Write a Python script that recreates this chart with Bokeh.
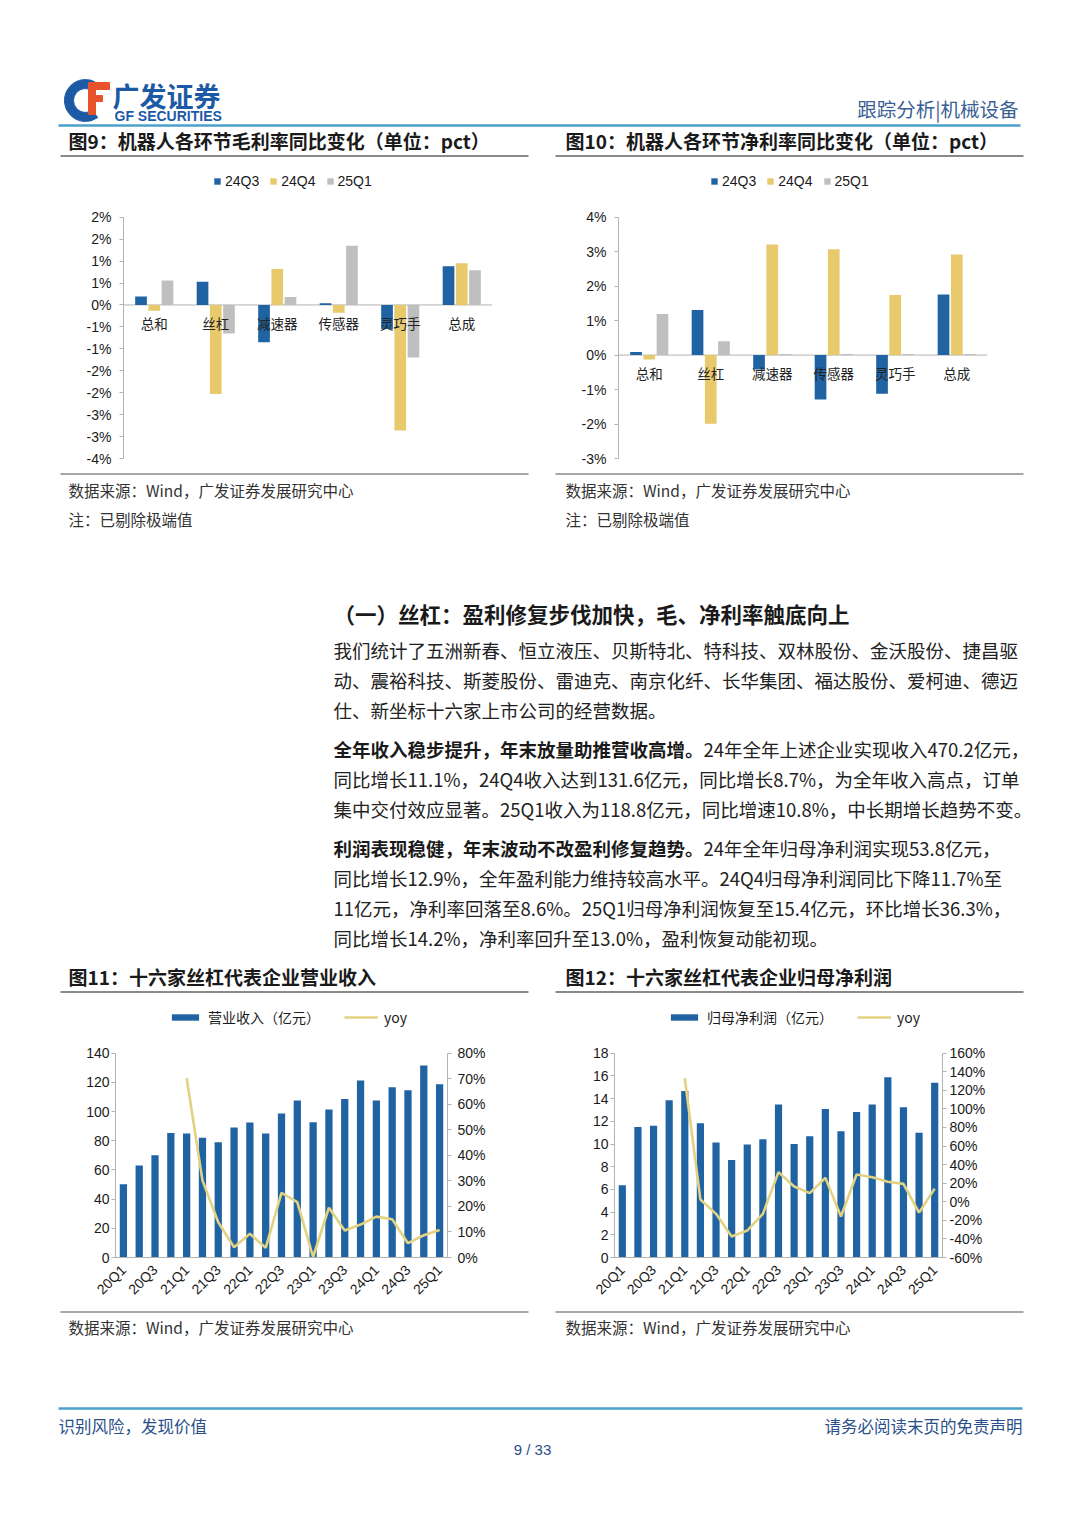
from math import pi
from bokeh.plotting import figure
from bokeh.models import (Range1d, FactorRange, LinearAxis, FixedTicker, Span, Legend,
                          LegendItem, PrintfTickFormatter, ColumnDataSource)
from bokeh.layouts import column, row
from bokeh.transform import dodge
from bokeh.core.properties import value
from bokeh.embed import file_html
from bokeh.resources import INLINE

CJK = "Noto Sans CJK SC"
LAT = "Liberation Sans"
BLUE = "#1f63a3"
GOLD = "#e8c96c"
GREY = "#bfbfbf"
YOYC = "#e2d282"
AXC = "#b3b3b3"

# ---------------- data ----------------
SEGMENTS = ["总和", "丝杠", "减速器", "传感器", "灵巧手", "总成"]
SERIES = ["24Q3", "24Q4", "25Q1"]
GROSS_24Q3 = [0.19, 0.53, -0.85, 0.04, -0.55, 0.88]
GROSS_24Q4 = [-0.13, -2.03, 0.82, -0.18, -2.86, 0.95]
GROSS_25Q1 = [0.56, -0.65, 0.18, 1.35, -1.20, 0.79]
GROSS_TICKS = [2.0, 1.5, 1.0, 0.5, 0.0, -0.5, -1.0, -1.5, -2.0, -2.5, -3.0, -3.5]
GROSS_TICK_LABELS = ["2%", "2%", "1%", "1%", "0%", "-1%", "-1%", "-2%", "-2%", "-3%", "-3%", "-4%"]

NET_24Q3 = [0.09, 1.31, -0.42, -1.29, -1.12, 1.76]
NET_24Q4 = [-0.13, -1.99, 3.21, 3.07, 1.74, 2.92]
NET_25Q1 = [1.19, 0.40, 0.03, 0.03, 0.03, 0.03]
NET_TICKS = [-3, -2, -1, 0, 1, 2, 3, 4]

QUARTERS = ["20Q1", "20Q2", "20Q3", "20Q4", "21Q1", "21Q2", "21Q3", "21Q4",
            "22Q1", "22Q2", "22Q3", "22Q4", "23Q1", "23Q2", "23Q3", "23Q4",
            "24Q1", "24Q2", "24Q3", "24Q4", "25Q1"]
REVENUE = [50.2, 63.0, 70.0, 85.4, 85.0, 82.0, 79.0, 89.0, 92.5, 85.0, 98.7,
           107.6, 92.7, 101.4, 108.7, 121.3, 107.6, 116.7, 114.6, 131.6, 118.8]
REVENUE_YOY = [70.3, 30.2, 13.8, 4.0, 9.3, 3.8, 25.3, 21.7, 0.2, 19.5, 10.6,
               12.9, 16.0, 15.0, 5.6, 8.7, 10.8]
REV_TICKS = [0, 20, 40, 60, 80, 100, 120, 140]
REV_YOY_TICKS = [0, 10, 20, 30, 40, 50, 60, 70, 80]

PROFIT = [6.37, 11.5, 11.6, 13.86, 14.68, 11.83, 10.13, 8.6, 9.95, 10.42, 13.48,
          10.01, 10.69, 13.09, 11.13, 12.83, 13.48, 15.88, 13.24, 11.0, 15.4]
PROFIT_YOY = [133.0, 2.4, -13.0, -37.4, -31.0, -13.0, 31.9, 16.4, 9.3, 25.8,
              -15.9, 29.4, 26.5, 21.5, 19.3, -11.7, 14.2]
PROFIT_TICKS = [0, 2, 4, 6, 8, 10, 12, 14, 16, 18]
PROFIT_YOY_TICKS = [-60, -40, -20, 0, 20, 40, 60, 80, 100, 120, 140, 160]


def style_axis(ax, standoff, tick_out=4, size="14px"):
    ax.axis_line_color = AXC
    ax.major_tick_line_color = AXC
    ax.major_tick_out = tick_out
    ax.major_tick_in = 0
    ax.minor_tick_line_color = None
    ax.major_label_text_font = LAT
    ax.major_label_text_font_size = size
    ax.major_label_text_color = "#1a1a1a"
    ax.major_label_standoff = standoff


def headroom(lo, hi, frame_h, top_px):
    """Range end so that `hi` sits top_px below the frame top (room for the legend)."""
    return hi + (hi - lo) * top_px / (frame_h - top_px)


def canvas(y0, y1, x0=0, x1=1064):
    p = figure(width=x1 - x0, height=y1 - y0, x_range=Range1d(x0, x1), y_range=Range1d(y1, y0),
               output_backend="svg", toolbar_location=None, min_border=0,
               x_axis_location=None, y_axis_location=None)
    p.grid.visible = False
    p.outline_line_color = None
    return p


def txt(p, x, y, s, size, bold=False, color="#1a1a1a", align="left", font=CJK):
    p.text(x=[x], y=[y], text=[s], text_font=value(font), text_font_size=f"{size}px",
           text_font_style="bold" if bold else "normal", text_color=color,
           text_align=align, text_baseline="middle")


def hline(p, x0, x1, y, color, width):
    p.segment(x0=[x0], x1=[x1], y0=[y], y1=[y], line_color=color, line_width=width)


# ---------------- header ----------------
hdr = canvas(0, 160)
hdr.annular_wedge(x=[85], y=[100], inner_radius=12, outer_radius=21, inner_radius_units="screen",
                  outer_radius_units="screen", start_angle=0.95, end_angle=2 * pi - 0.95,
                  color="#1d5aa6")
hdr.quad(left=[88, 88, 88], right=[109, 102, 95], top=[82, 95, 82], bottom=[89, 101, 114],
         color="#e9532b")
txt(hdr, 112, 95, "广发证券", 27, bold=True, color="#1d5aa6")
txt(hdr, 114, 115, "GF SECURITIES", 14, bold=True, color="#1d5aa6", font=LAT)
txt(hdr, 1018, 108, "跟踪分析|机械设备", 19.5, color="#3b5f94", align="right")
hline(hdr, 58, 1020, 125, "#4aa0c8", 2.5)
txt(hdr, 68, 140, "图9：机器人各环节毛利率同比变化（单位：pct）", 19, bold=True)
txt(hdr, 565, 140, "图10：机器人各环节净利率同比变化（单位：pct）", 19, bold=True)
hline(hdr, 60, 528, 155.5, "#8a8a8a", 2)
hline(hdr, 555, 1023, 155.5, "#8a8a8a", 2)


# ---------------- grouped bar charts ----------------
def bar_chart(lb, rb, vals, lo, hi, legend_x):
    frame_h = 310 - 5 - 12
    p = figure(width=532, height=310, x_range=FactorRange(*SEGMENTS),
               y_range=Range1d(lo, headroom(lo, hi, frame_h, 51.7)),
               x_axis_location=None, output_backend="svg", toolbar_location=None,
               min_border_left=lb, min_border_right=rb, min_border_top=5, min_border_bottom=12)
    p.outline_line_color = None
    p.grid.visible = False
    src = ColumnDataSource(dict(seg=SEGMENTS, a=vals[0], b=vals[1], c=vals[2], zero=[0] * len(SEGMENTS)))
    p.add_layout(Span(location=0, dimension="width", line_color=AXC, line_width=1, level="underlay"))
    rs = []
    for col, off, colr in (("a", -0.215, BLUE), ("b", 0.0, GOLD), ("c", 0.215, GREY)):
        rs.append(p.vbar(x=dodge("seg", off, range=p.x_range), top=col, width=0.19, source=src,
                         fill_color=colr, line_color=None))
    p.text(x="seg", y="zero", text="seg", source=src, y_offset=18, text_align="center",
           text_baseline="middle", text_font=value(CJK), text_font_size="13.5px", text_color="#222")
    leg = Legend(items=[LegendItem(label=s, renderers=[r]) for s, r in zip(SERIES, rs)],
                 orientation="horizontal", location=(legend_x, 269), border_line_color=None,
                 background_fill_alpha=0, padding=0, margin=0, spacing=10, label_standoff=4,
                 glyph_width=8, glyph_height=8, label_height=14, label_text_font=LAT,
                 label_text_font_size="14px", label_text_color="#1a1a1a")
    p.add_layout(leg)
    style_axis(p.yaxis[0], 8)
    p.yaxis[0].bounds = (lo, hi)
    return p


c9 = bar_chart(123, 40, (GROSS_24Q3, GROSS_24Q4, GROSS_25Q1), GROSS_TICKS[-1], GROSS_TICKS[0], 90)
c9.yaxis[0].ticker = FixedTicker(ticks=GROSS_TICKS)
c9.yaxis[0].major_label_overrides = dict(zip(GROSS_TICKS, GROSS_TICK_LABELS))

c10 = bar_chart(86, 77, (NET_24Q3, NET_24Q4, NET_25Q1), NET_TICKS[0], NET_TICKS[-1], 92)
c10.yaxis[0].ticker = FixedTicker(ticks=NET_TICKS)
c10.yaxis[0].formatter = PrintfTickFormatter(format="%d%%")

# ---------------- middle text ----------------
mid = canvas(470, 995)
hline(mid, 60, 528, 473.5, "#8a8a8a", 1.5)
hline(mid, 555, 1023, 473.5, "#8a8a8a", 1.5)
for x0 in (68, 565):
    txt(mid, x0, 489, "数据来源：Wind，广发证券发展研究中心", 15.5, color="#333")
    txt(mid, x0, 518, "注：已剔除极端值", 15.5, color="#333")
txt(mid, 333, 613, "（一）丝杠：盈利修复步伐加快，毛、净利率触底向上", 21.5, bold=True)
BS = 18.5
body = [
    (649, None, "我们统计了五洲新春、恒立液压、贝斯特北、特科技、双林股份、金沃股份、捷昌驱"),
    (679, None, "动、震裕科技、斯菱股份、雷迪克、南京化纤、长华集团、福达股份、爱柯迪、德迈"),
    (709, None, "仕、新坐标十六家上市公司的经营数据。"),
    (748, "全年收入稳步提升，年末放量助推营收高增。", "24年全年上述企业实现收入470.2亿元，"),
    (778, None, "同比增长11.1%，24Q4收入达到131.6亿元，同比增长8.7%，为全年收入高点，订单"),
    (808, None, "集中交付效应显著。25Q1收入为118.8亿元，同比增速10.8%，中长期增长趋势不变。"),
    (847, "利润表现稳健，年末波动不改盈利修复趋势。", "24年全年归母净利润实现53.8亿元，"),
    (877, None, "同比增长12.9%，全年盈利能力维持较高水平。24Q4归母净利润同比下降11.7%至"),
    (907, None, "11亿元，净利率回落至8.6%。25Q1归母净利润恢复至15.4亿元，环比增长36.3%，"),
    (937, None, "同比增长14.2%，净利率回升至13.0%，盈利恢复动能初现。"),
]
for y, b, s in body:
    x = 333
    if b:
        txt(mid, x, y, b, BS, bold=True)
        x += len(b) * BS
    txt(mid, x, y, s, BS, color="#222")
txt(mid, 68, 976, "图11：十六家丝杠代表企业营业收入", 19, bold=True)
txt(mid, 565, 976, "图12：十六家丝杠代表企业归母净利润", 19, bold=True)
hline(mid, 60, 528, 991.5, "#8a8a8a", 2)
hline(mid, 555, 1023, 991.5, "#8a8a8a", 2)


# ---------------- bar + line charts ----------------
def combo_chart(lb, rb, bars, bar_ticks, yoy, yoy_ticks, bar_label, lstand, rstand):
    n = len(QUARTERS)
    idx = list(range(n))
    frame_h = 315 - 10 - 53
    blo, bhi = bar_ticks[0], bar_ticks[-1]
    ylo, yhi = yoy_ticks[0], yoy_ticks[-1]
    p = figure(width=532, height=315, x_range=Range1d(-0.5, n - 0.5),
               y_range=Range1d(blo, headroom(blo, bhi, frame_h, 47.7)), output_backend="svg",
               toolbar_location=None, min_border_left=lb, min_border_right=rb,
               min_border_top=10, min_border_bottom=53)
    p.outline_line_color = None
    p.grid.visible = False
    p.extra_y_ranges = {"yoy": Range1d(ylo, headroom(ylo, yhi, frame_h, 47.7))}
    rb_ = p.vbar(x=idx, top=bars, width=0.46, fill_color=BLUE, line_color=None)
    rl = p.line(x=idx[n - len(yoy):], y=yoy, y_range_name="yoy", line_color=YOYC, line_width=2.6)
    ax = p.yaxis[0]
    ax.ticker = FixedTicker(ticks=bar_ticks)
    ax.bounds = (blo, bhi)
    style_axis(ax, lstand)
    rax = LinearAxis(y_range_name="yoy", ticker=FixedTicker(ticks=yoy_ticks),
                     formatter=PrintfTickFormatter(format="%d%%"), bounds=(ylo, yhi))
    style_axis(rax, rstand)
    p.add_layout(rax, "right")
    xa = p.xaxis[0]
    xa.ticker = FixedTicker(ticks=idx[::2])
    xa.major_label_overrides = {i: QUARTERS[i] for i in idx[::2]}
    xa.major_label_orientation = pi / 4
    style_axis(xa, 6)
    xa.major_tick_line_color = None
    leg = Legend(items=[LegendItem(label=bar_label, renderers=[rb_]), LegendItem(label="yoy", renderers=[rl])],
                 orientation="horizontal", location=(53, 230), border_line_color=None,
                 background_fill_alpha=0, padding=0, margin=0, spacing=24, label_standoff=6,
                 glyph_width=34, glyph_height=8, label_height=14, label_text_font=CJK,
                 label_text_font_size="14px", label_text_color="#1a1a1a")
    p.add_layout(leg)
    return p


c11 = combo_chart(115, 85, REVENUE, REV_TICKS, REVENUE_YOY, REV_YOY_TICKS, "营业收入（亿元）", 2, 6)
c12 = combo_chart(82, 122, PROFIT, PROFIT_TICKS, PROFIT_YOY, PROFIT_YOY_TICKS, "归母净利润（亿元）", 2, 3)

# ---------------- footer ----------------
ftr = canvas(1310, 1519)
hline(ftr, 60, 528, 1311.5, "#8a8a8a", 1.5)
hline(ftr, 555, 1023, 1311.5, "#8a8a8a", 1.5)
txt(ftr, 68, 1326, "数据来源：Wind，广发证券发展研究中心", 15.5, color="#333")
txt(ftr, 565, 1326, "数据来源：Wind，广发证券发展研究中心", 15.5, color="#333")
hline(ftr, 58, 1022, 1408, "#4aa0c8", 2.5)
txt(ftr, 58, 1425, "识别风险，发现价值", 16.5, color="#2a4f8a")
txt(ftr, 1022, 1425, "请务必阅读末页的免责声明", 16.5, color="#2a4f8a", align="right")
txt(ftr, 532, 1449, "9 / 33", 15, color="#2a4f8a", align="center", font=LAT)

page = column(hdr, row(c9, c10), mid, row(c11, c12), ftr)
open("out.html", "w").write(file_html(page, INLINE))
